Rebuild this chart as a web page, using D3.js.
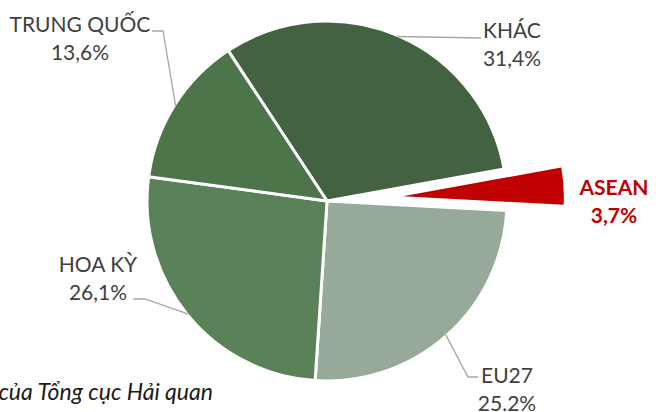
<!DOCTYPE html>
<html>
<head>
<meta charset="utf-8">
<script src="https://cdn.jsdelivr.net/npm/d3@7"></script>
<style>
  html, body { margin: 0; padding: 0; background: #fff; }
  svg { display: block; }
  text { font-family: Lato, "Noto Sans", sans-serif; }
</style>
</head>
<body>
<svg id="chart" width="656" height="412"></svg>
<script>
// data
const categories = ["KHÁC", "ASEAN", "EU27", "HOA KỲ", "TRUNG QUỐC"];
const values = [31.4, 3.7, 25.2, 26.1, 13.6];
const valueLabels = ["31,4%", "3,7%", "25.2%", "26,1%", "13,6%"];
const sourceNote = "của Tổng cục Hải quan";

const colors = ["#436241", "#c00000", "#97a998", "#5a8157", "#4e7449"];

// label layout (baseline of first line, centre x), elbow/end points of leaders
const labelLayout = {
  "KHÁC":       { x: 512, y: 38,  bold: false, leader: [[481, 38]] },
  "ASEAN":      { x: 614, y: 195, bold: true,  leader: null },
  "EU27":       { x: 507, y: 383, bold: false, leader: [[468, 377], [478, 377]] },
  "HOA KỲ":     { x: 98,  y: 272, bold: false, leader: [[145, 299], [133, 299]] },
  "TRUNG QUỐC": { x: 80,  y: 32,  bold: false, leader: [[163, 31], [152, 31]] }
};

const CENTER = { x: 327, y: 201 };
const RADIUS = 180;
const EXPLODE = 76;
const EXPLODE_RADIUS = 161;
const START = -33.3 * Math.PI / 180;

const svg = d3.select("#chart");

const pie = d3.pie()
  .sort(null)
  .value(d => d.value)
  .startAngle(START)
  .endAngle(START + 2 * Math.PI);

const data = categories.map((c, i) => ({ name: c, value: values[i], label: valueLabels[i], color: colors[i] }));
const arcs = pie(data);

const arc = d3.arc().innerRadius(0).outerRadius(RADIUS);
const arcSmall = d3.arc().innerRadius(0).outerRadius(EXPLODE_RADIUS);

const g = svg.append("g").attr("transform", `translate(${CENTER.x},${CENTER.y})`);

g.selectAll("path.slice")
  .data(arcs)
  .join("path")
  .attr("class", "slice")
  .attr("transform", d => {
    if (d.data.name !== "ASEAN") return null;
    const mid = (d.startAngle + d.endAngle) / 2;
    return `translate(${EXPLODE * Math.sin(mid)},${-EXPLODE * Math.cos(mid)})`;
  })
  .attr("d", d => d.data.name === "ASEAN" ? arcSmall(d) : arc(d))
  .attr("fill", d => d.data.color)
  .attr("stroke", d => d.data.name === "ASEAN" ? "none" : "#fff")
  .attr("stroke-width", 3)
  .attr("stroke-linejoin", "round");

// leader lines
const line = d3.line();
arcs.forEach(d => {
  const lay = labelLayout[d.data.name];
  if (!lay.leader) return;
  const mid = (d.startAngle + d.endAngle) / 2;
  const r = RADIUS - 1;
  const start = [CENTER.x + r * Math.sin(mid), CENTER.y - r * Math.cos(mid)];
  svg.append("path")
    .attr("d", line([start, ...lay.leader]))
    .attr("fill", "none")
    .attr("stroke", "#a6a6a6")
    .attr("stroke-width", 1.3);
});

// labels
arcs.forEach(d => {
  const lay = labelLayout[d.data.name];
  const t = svg.append("text")
    .attr("text-anchor", "middle")
    .attr("font-size", 21)
    .attr("font-weight", lay.bold ? 700 : 400)
    .attr("fill", lay.bold ? "#c00000" : "#404040");
  t.append("tspan").attr("x", lay.x).attr("y", lay.y).text(d.data.name);
  t.append("tspan").attr("x", lay.x).attr("y", lay.y + 28).text(d.data.label);
});

svg.append("text")
  .attr("x", 213)
  .attr("y", 400)
  .attr("text-anchor", "end")
  .attr("font-size", 23)
  .attr("font-style", "italic")
  .attr("fill", "#1a1a1a")
  .text(sourceNote);
</script>
</body>
</html>
